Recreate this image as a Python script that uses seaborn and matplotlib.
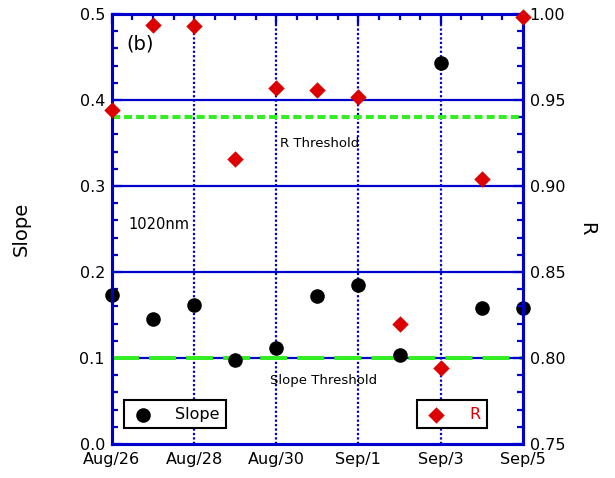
import matplotlib
matplotlib.use("Agg")
import matplotlib.pyplot as plt
import matplotlib.dates as mdates
import seaborn as sns
import pandas as pd
import numpy as np

dates = pd.date_range("2014-08-26", "2014-09-05", freq="D")
slope = [0.173, 0.145, 0.162, 0.098, 0.112, 0.172, 0.185, 0.103, 0.443, 0.158, 0.158]
r_vals = [0.944, 0.9935, 0.993, 0.9157, 0.957, 0.956, 0.9517, 0.820, 0.794, 0.904, 0.998]
slope_threshold = 0.1
r_threshold = 0.940
x_tick_labels = ["Aug/26", "Aug/28", "Aug/30", "Sep/1", "Sep/3", "Sep/5"]

df = pd.DataFrame({"date": dates, "Slope": slope, "R": r_vals})

sns.set_style("white")
plt.rcParams["font.family"] = ["DejaVu Sans"]
plt.rcParams["text.color"] = "black"
plt.rcParams["axes.labelcolor"] = "black"

BLUE = "#0000cc"
GREEN = "#33ee22"
fig = plt.figure(figsize=(6.15, 4.78), dpi=100)
ax = fig.add_axes([0.182, 0.0711, 0.668, 0.8996])
ax2 = ax.twinx()

# grid
for v in [0.1, 0.2, 0.3, 0.4]:
    ax.axhline(v, color=BLUE, lw=1.6, zorder=1)
tick_dates = dates[::2]
for d in tick_dates[1:-1]:
    ax.axvline(d, color=BLUE, lw=1.6, ls=(0, (1.0, 1.0)), zorder=1)

# thresholds
ax.axhline(slope_threshold, color=GREEN, lw=2.9, ls=(0, (6.7, 2.5)), zorder=2)
ax2.axhline(r_threshold, color=GREEN, lw=2.9, ls=(0, (2.0, 1.0)), zorder=2)

sns.scatterplot(data=df, x="date", y="Slope", ax=ax, color="black", marker="o",
                s=110, edgecolor="black", linewidth=0, label="Slope", zorder=3,
                clip_on=False)
sns.scatterplot(data=df, x="date", y="R", ax=ax2, color="#dd0000", marker="D",
                s=70, edgecolor="#dd0000", linewidth=0, label="R", zorder=3,
                clip_on=False)

ax.set_xlim(dates[0], dates[-1])
ax.set_ylim(0, 0.5)
ax2.set_ylim(0.75, 1.0)

ax.set_xticks(tick_dates)
ax.set_xticklabels(x_tick_labels)
ax.xaxis.set_minor_locator(mdates.HourLocator(byhour=[0, 12]))
ax.set_yticks(np.arange(0, 0.51, 0.1))
ax.set_yticklabels([f"{v:.1f}" for v in np.arange(0, 0.51, 0.1)])
ax.yaxis.set_minor_locator(matplotlib.ticker.MultipleLocator(0.02))
ax2.set_yticks(np.arange(0.75, 1.001, 0.05))
ax2.set_yticklabels([f"{v:.2f}" for v in np.arange(0.75, 1.001, 0.05)])
ax2.yaxis.set_minor_locator(matplotlib.ticker.MultipleLocator(0.01))

for a in (ax, ax2):
    for sp in a.spines.values():
        sp.set_color(BLUE)
        sp.set_linewidth(2.2)
    a.tick_params(which="major", direction="in", length=7, width=1.6, color=BLUE,
                  labelsize=11.5, labelcolor="black")
    a.tick_params(which="minor", direction="in", length=4, width=1.6, color=BLUE)
ax.tick_params(axis="x", which="both", top=True, pad=6)
ax.tick_params(axis="y", which="both", left=True, right=False, pad=5)
ax2.tick_params(axis="y", which="both", right=True, left=False, pad=5)

ax.set_xlabel("")
ax.set_ylabel("Slope", fontsize=14, labelpad=35)
ax2.set_ylabel("R", fontsize=14, rotation=-90, labelpad=22)

ax.text(0.036, 0.93, "(b)", transform=ax.transAxes, fontsize=14, va="center", ha="left")
ax.text(0.04, 0.51, "1020nm", transform=ax.transAxes, fontsize=10.5, va="center", ha="left")
ax2.text(0.41, 0.70, "R Threshold", transform=ax.transAxes, fontsize=9.5, va="center", ha="left")
ax.text(0.385, 0.147, "Slope Threshold", transform=ax.transAxes, fontsize=9.5, va="center", ha="left")

leg1 = ax.legend(loc="lower left", bbox_to_anchor=(0.029, 0.037), borderaxespad=0,
                 fancybox=False, edgecolor="black", fontsize=11.5, handletextpad=1.2,
                 handlelength=1.6, borderpad=0.4, markerscale=1.0, framealpha=1)
leg1.get_frame().set_linewidth(1.5)
leg2 = ax2.legend(loc="lower left", bbox_to_anchor=(0.742, 0.037), borderaxespad=0,
                  fancybox=False, edgecolor="black", fontsize=11.5, handletextpad=1.3,
                  handlelength=1.6, borderpad=0.4, framealpha=1, labelcolor="#dd0000")
leg2.get_frame().set_linewidth(1.5)

fig.savefig("out.png", dpi=100)
